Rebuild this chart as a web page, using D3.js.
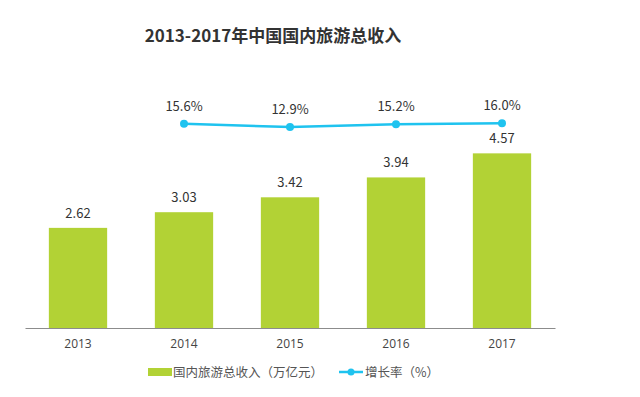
<!DOCTYPE html>
<html>
<head>
<meta charset="utf-8">
<script src="https://cdn.jsdelivr.net/npm/d3@7/dist/d3.min.js"></script>
<style>
html,body{margin:0;padding:0;background:#fff;}
svg{display:block;font-family:"Noto Sans CJK SC","Open Sans",sans-serif;}
</style>
</head>
<body>
<svg id="chart" width="640" height="397"></svg>
<script>
const years = ["2013","2014","2015","2016","2017"];
const revenue = [2.62, 3.03, 3.42, 3.94, 4.57];
const growthYears = ["2014","2015","2016","2017"];
const growth = [15.6, 12.9, 15.2, 16.0];
const title = "2013-2017年中国国内旅游总收入";
const barLegend = "国内旅游总收入（万亿元）";
const lineLegend = "增长率（%）";

const svg = d3.select("#chart");
const barColor = "#b2d235";
const lineColor = "#1fc3ef";

const x = d3.scaleBand().domain(years).range([25, 555]).paddingInner(0.45).paddingOuter(0.225);
const y = d3.scaleLinear().domain([0, 6]).range([328, 98.7]);
const y2 = d3.scaleLinear().domain([0, 20]).range([142.9, 118.3]);

svg.append("text").attr("x", 273).attr("y", 42).attr("text-anchor", "middle")
  .attr("font-size", 17).attr("font-weight", "bold").attr("fill", "#333").text(title);

svg.selectAll("rect.bar").data(revenue).join("rect").attr("class","bar")
  .attr("x", (d,i)=>x(years[i])).attr("width", x.bandwidth())
  .attr("y", d=>y(d)).attr("height", d=>y(0)-y(d)).attr("fill", barColor);

svg.selectAll("text.val").data(revenue).join("text").attr("class","val")
  .attr("x", (d,i)=>x(years[i])+x.bandwidth()/2).attr("y", d=>y(d)-10)
  .attr("text-anchor","middle").attr("font-size", 13).attr("fill","#333")
  .text(d=>d.toFixed(2));

const axis = d3.axisBottom(x).tickSize(0).tickPadding(11);
const ag = svg.append("g").attr("transform", "translate(0,328)").call(axis);
ag.select(".domain").attr("stroke", "#8c8c8c").attr("stroke-width", 1.2);
ag.selectAll("text").attr("font-size", 12).attr("fill", "#444")
  .attr("font-family", '"Open Sans","Noto Sans CJK SC",sans-serif');

const cx = d => x(d) + x.bandwidth()/2;
const line = d3.line().x((d,i)=>cx(growthYears[i])).y(d=>y2(d));
svg.append("path").datum(growth).attr("d", line).attr("fill","none")
  .attr("stroke", lineColor).attr("stroke-width", 2.5);
svg.selectAll("circle.dot").data(growth).join("circle").attr("class","dot")
  .attr("cx", (d,i)=>cx(growthYears[i])).attr("cy", d=>y2(d)).attr("r", 4).attr("fill", lineColor);
svg.selectAll("text.pct").data(growth).join("text").attr("class","pct")
  .attr("x", (d,i)=>cx(growthYears[i])).attr("y", d=>y2(d)-13)
  .attr("text-anchor","middle").attr("font-size", 13).attr("fill","#333")
  .text(d=>d.toFixed(1)+"%");

// legend
const lg = svg.append("g");
lg.append("rect").attr("x", 148).attr("y", 368).attr("width", 24).attr("height", 8).attr("fill", barColor);
lg.append("text").attr("x", 173).attr("y", 377).attr("font-size", 12.5).attr("fill", "#555").text(barLegend);
lg.append("line").attr("x1", 339).attr("x2", 363).attr("y1", 372).attr("y2", 372)
  .attr("stroke", lineColor).attr("stroke-width", 2.5);
lg.append("circle").attr("cx", 351).attr("cy", 372).attr("r", 3.5).attr("fill", lineColor);
lg.append("text").attr("x", 365).attr("y", 377).attr("font-size", 12.5).attr("fill", "#555").text(lineLegend);
</script>
</body>
</html>
